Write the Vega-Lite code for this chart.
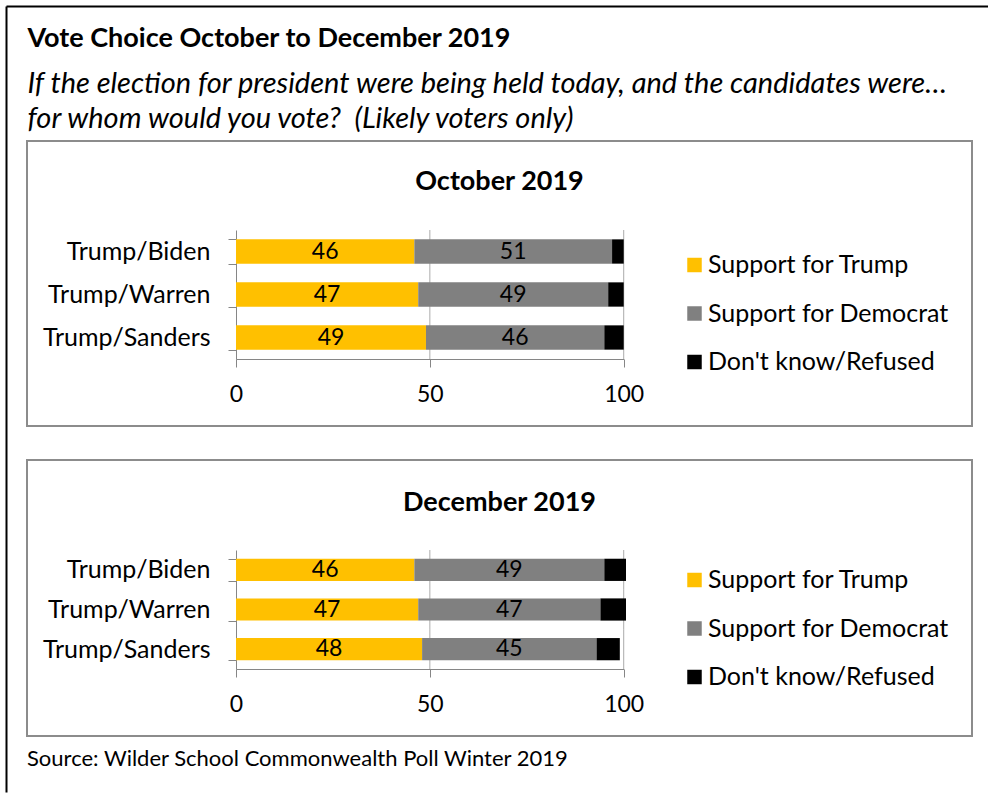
{
  "$schema": "https://vega.github.io/schema/vega-lite/v6.json",
  "padding": {"left": 3, "top": 3, "right": 0, "bottom": 0},
  "background": "white",
  "config": {
    "font": "Lato",
    "view": {"stroke": "#8c8c8c", "strokeWidth": 2},
    "axis": {"labelFont": "Lato", "labelColor": "#000000", "domainColor": "#868686", "tickColor": "#868686", "labelFontSize": 23, "grid": false, "titleFont": "Lato", "titleColor": "#000000"},
    "legend": {"labelFont": "Lato", "labelColor": "#000000", "labelFontSize": 25, "labelLimit": 0},
    "title": {"font": "Lato", "color": "#000000", "subtitleColor": "#000000", "subtitleFont": "Lato"}
  },
  "datasets": {
    "poll": [
      {"panel": "Oct", "pair": "Trump/Biden", "response": "Support for Trump", "order": 1, "value": 46},
      {"panel": "Oct", "pair": "Trump/Biden", "response": "Support for Democrat", "order": 2, "value": 51},
      {"panel": "Oct", "pair": "Trump/Biden", "response": "Don't know/Refused", "order": 3, "value": 3},
      {"panel": "Oct", "pair": "Trump/Warren", "response": "Support for Trump", "order": 1, "value": 47},
      {"panel": "Oct", "pair": "Trump/Warren", "response": "Support for Democrat", "order": 2, "value": 49},
      {"panel": "Oct", "pair": "Trump/Warren", "response": "Don't know/Refused", "order": 3, "value": 4},
      {"panel": "Oct", "pair": "Trump/Sanders", "response": "Support for Trump", "order": 1, "value": 49},
      {"panel": "Oct", "pair": "Trump/Sanders", "response": "Support for Democrat", "order": 2, "value": 46},
      {"panel": "Oct", "pair": "Trump/Sanders", "response": "Don't know/Refused", "order": 3, "value": 5},
      {"panel": "Dec", "pair": "Trump/Biden", "response": "Support for Trump", "order": 1, "value": 46},
      {"panel": "Dec", "pair": "Trump/Biden", "response": "Support for Democrat", "order": 2, "value": 49},
      {"panel": "Dec", "pair": "Trump/Biden", "response": "Don't know/Refused", "order": 3, "value": 5.6},
      {"panel": "Dec", "pair": "Trump/Warren", "response": "Support for Trump", "order": 1, "value": 47},
      {"panel": "Dec", "pair": "Trump/Warren", "response": "Support for Democrat", "order": 2, "value": 47},
      {"panel": "Dec", "pair": "Trump/Warren", "response": "Don't know/Refused", "order": 3, "value": 6.6},
      {"panel": "Dec", "pair": "Trump/Sanders", "response": "Support for Trump", "order": 1, "value": 48},
      {"panel": "Dec", "pair": "Trump/Sanders", "response": "Support for Democrat", "order": 2, "value": 45},
      {"panel": "Dec", "pair": "Trump/Sanders", "response": "Don't know/Refused", "order": 3, "value": 6}
    ]
  },
  "bounds": "flush",
  "spacing": 34,
  "resolve": {"scale": {"color": "independent"}, "legend": {"color": "independent"}},
  "vconcat": [
    {
      "width": 945,
      "height": 1,
      "view": {"stroke": null},
      "data": {"values": [{"a": 0, "b": 0}]},
      "mark": {"type": "point", "opacity": 0},
      "encoding": {
        "x": {
          "field": "a", "type": "quantitative",
          "scale": {"domain": [0, 1], "range": [-21, 961], "nice": false},
          "axis": {
            "orient": "top", "offset": 100, "domainColor": "#000000", "domainWidth": 2, "ticks": false, "labels": false, "grid": false,
            "title": "Vote Choice October to December 2019",
            "titleX": 0, "titleY": 40.5, "titleAlign": "left", "titleBaseline": "alphabetic", "titleAngle": 0,
            "titleFontSize": 27, "titleFontWeight": "bold", "titlePadding": 0
          }
        },
        "y": {
          "field": "b", "type": "quantitative",
          "scale": {"domain": [0, 1], "range": [-100, 686], "nice": false},
          "axis": {
            "orient": "left", "offset": 21, "domainColor": "#000000", "domainWidth": 2, "ticks": false, "labels": false, "grid": false,
            "title": ["If the election for president were being held today, and the candidates were\u2026", "for whom would you vote?\u00a0 (Likely voters only)"],
            "titleX": 21, "titleY": -14, "titleAlign": "left", "titleBaseline": "alphabetic", "titleAngle": 0,
            "titleFontSize": 29, "titleFontStyle": "italic", "titleFontWeight": "normal", "titleLineHeight": 35, "titlePadding": 0
          }
        }
      }
    },
    {
      "width": 945,
      "height": 285,
      "data": {"name": "poll"},
      "transform": [{"filter": "datum.panel == 'Oct'"}],
      "title": {"text": "October 2019", "fontSize": 27, "fontWeight": "bold", "anchor": "middle", "offset": -67},
      "encoding": {
        "y": {
          "field": "pair", "type": "nominal", "title": null,
          "sort": ["Trump/Biden", "Trump/Warren", "Trump/Sanders"],
          "scale": {"range": [89, 218], "paddingInner": 0.435, "paddingOuter": 0.2175},
          "axis": {"offset": -209, "tickBand": "extent", "tickSize": 8, "labelPadding": 18, "labelFontSize": 25}
        },
        "x": {
          "field": "value", "type": "quantitative", "stack": "zero", "title": null,
          "scale": {"domain": [0, 100], "range": [209, 596.7], "nice": false, "zero": false},
          "axis": {"values": [0, 50, 100], "offset": -67, "tickSize": 8, "labelPadding": 16, "labelFlush": false}
        }
      },
      "layer": [
        {
          "transform": [{"filter": "datum.order == 1"}],
          "mark": {"type": "tick", "color": "#868686", "thickness": 1, "size": 43},
          "encoding": {"x": {"datum": 50, "type": "quantitative"}}
        },
        {
          "transform": [{"filter": "datum.order == 1"}],
          "mark": {"type": "tick", "color": "#868686", "thickness": 1, "size": 43},
          "encoding": {"x": {"datum": 100, "type": "quantitative"}}
        },
        {
          "mark": {"type": "bar"},
          "encoding": {
            "color": {
              "field": "response", "type": "nominal",
              "scale": {"domain": ["Support for Trump", "Support for Democrat", "Don't know/Refused"], "range": ["#FFC000", "#808080", "#000000"]},
              "legend": {"orient": "none", "legendX": 655, "legendY": 111.5, "title": null, "symbolType": "square", "symbolSize": 210, "symbolStrokeWidth": 0, "rowPadding": 22.5, "labelOffset": 1}
            },
            "order": {"field": "order", "type": "quantitative"}
          }
        },
        {
          "transform": [{"filter": "datum.order < 3"}],
          "mark": {"type": "text", "fontSize": 23, "color": "#000000"},
          "encoding": {
            "x": {"field": "value", "type": "quantitative", "stack": "zero", "bandPosition": 0.5},
            "detail": {"field": "response", "type": "nominal"},
            "order": {"field": "order", "type": "quantitative"},
            "text": {"field": "value", "type": "quantitative", "format": ".0f"}
          }
        }
      ]
    },
    {
      "width": 945,
      "height": 276,
      "data": {"name": "poll"},
      "transform": [{"filter": "datum.panel == 'Dec'"}],
      "title": {"text": "December 2019", "fontSize": 27, "fontWeight": "bold", "anchor": "middle", "offset": -69},
      "encoding": {
        "y": {
          "field": "pair", "type": "nominal", "title": null,
          "sort": ["Trump/Biden", "Trump/Warren", "Trump/Sanders"],
          "scale": {"range": [90, 209], "paddingInner": 0.44, "paddingOuter": 0.22},
          "axis": {"offset": -209, "tickBand": "extent", "tickSize": 8, "labelPadding": 18, "labelFontSize": 25}
        },
        "x": {
          "field": "value", "type": "quantitative", "stack": "zero", "title": null,
          "scale": {"domain": [0, 100], "range": [209, 596.7], "nice": false, "zero": false},
          "axis": {"values": [0, 50, 100], "offset": -67, "tickSize": 8, "labelPadding": 16, "labelFlush": false}
        }
      },
      "layer": [
        {
          "transform": [{"filter": "datum.order == 1"}],
          "mark": {"type": "tick", "color": "#868686", "thickness": 1, "size": 39.7},
          "encoding": {"x": {"datum": 50, "type": "quantitative"}}
        },
        {
          "transform": [{"filter": "datum.order == 1"}],
          "mark": {"type": "tick", "color": "#868686", "thickness": 1, "size": 39.7},
          "encoding": {"x": {"datum": 100, "type": "quantitative"}}
        },
        {
          "mark": {"type": "bar"},
          "encoding": {
            "color": {
              "field": "response", "type": "nominal",
              "scale": {"domain": ["Support for Trump", "Support for Democrat", "Don't know/Refused"], "range": ["#FFC000", "#808080", "#000000"]},
              "legend": {"orient": "none", "legendX": 655, "legendY": 107.5, "title": null, "symbolType": "square", "symbolSize": 210, "symbolStrokeWidth": 0, "rowPadding": 22.5, "labelOffset": 1}
            },
            "order": {"field": "order", "type": "quantitative"}
          }
        },
        {
          "transform": [{"filter": "datum.order < 3"}],
          "mark": {"type": "text", "fontSize": 23, "color": "#000000"},
          "encoding": {
            "x": {"field": "value", "type": "quantitative", "stack": "zero", "bandPosition": 0.5},
            "detail": {"field": "response", "type": "nominal"},
            "order": {"field": "order", "type": "quantitative"},
            "text": {"field": "value", "type": "quantitative", "format": ".0f"}
          }
        }
      ]
    },
    {
      "width": 945,
      "height": 1,
      "view": {"stroke": null},
      "data": {"values": [{}]},
      "mark": {"type": "point", "opacity": 0},
      "title": {"text": "Source: Wilder School Commonwealth Poll Winter 2019", "anchor": "start", "fontSize": 22, "fontWeight": "normal", "offset": -3}
    }
  ]
}
